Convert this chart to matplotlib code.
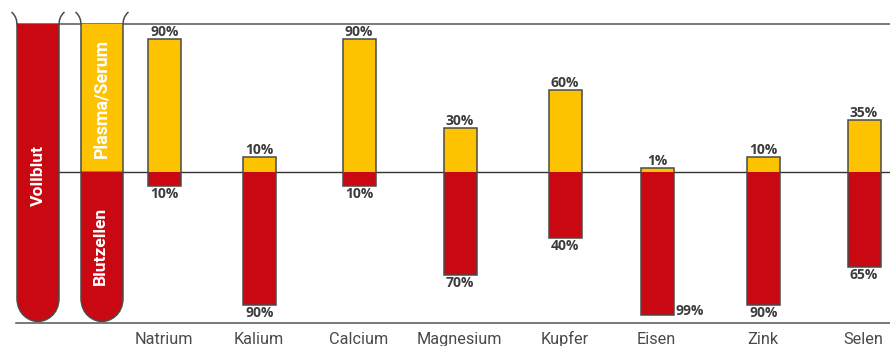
import matplotlib
matplotlib.use("Agg")
import matplotlib.pyplot as plt
from matplotlib.path import Path
from matplotlib.patches import PathPatch

# Verteilung der Elemente zwischen Plasma/Serum und Blutzellen (Prozent)
elements = ["Natrium", "Kalium", "Calcium", "Magnesium", "Kupfer", "Eisen", "Zink", "Selen"]
plasma_labels = [90, 10, 90, 30, 60, 1, 10, 35]
cells_labels = [10, 90, 10, 70, 40, 99, 90, 65]

# bar lengths as drawn in the picture, Kupfer and Eisen differ from their labels
plasma = [89.5, 10, 89.5, 29.5, 55, 2.3, 10, 35]
cells = [9.5, 90, 9.5, 70, 45, 97, 90, 64.5]

plt.rcParams['font.family'] = ['Roboto', 'DejaVu Sans']

YELLOW = "#FDC300"
RED = "#C90812"
EDGE = "#4a4a4a"
LINE = "#555555"
TEXT = "#3c3c3c"

# bar centres in pixels, spacing in the original is not quite even
centers = [164.5, 259.5, 359, 460, 565, 657, 763.5, 864]
bar_w = 33
px_per_pct = 1.48
zero_px = 171.5

fig = plt.figure(figsize=(8.9, 3.46), dpi=100)

# pixel axes for the rules and test tubes
deco = fig.add_axes([0, 0, 1, 1])
deco.set_xlim(0, 890)
deco.set_ylim(346, 0)
deco.axis("off")

# percent axes for the bars
ax = fig.add_axes([0, 0, 1, 1], zorder=2)
ax.set_xlim(0, 890)
ax.set_ylim(-(346 - zero_px) / px_per_pct, zero_px / px_per_pct)
ax.axis("off")

deco.plot([17, 890], [24, 24], color=LINE, lw=1.1, zorder=1)
deco.plot([59, 890], [zero_px, zero_px], color="#333333", lw=1.0, zorder=1)
deco.plot([16, 890], [323, 323], color=LINE, lw=1.1, zorder=1)


def tube_fill(x0, x1, y0, y1, color):
    # y1 is the rounded end of the tube when it is the bottom
    if y1 > 300:
        verts = [(x0, y0), (x0, 298), (x0, 315), (x0 + 13, 321.5), ((x0 + x1) / 2, 321.5),
                 (x1 - 13, 321.5), (x1, 315), (x1, 298), (x1, y0), (x0, y0)]
        codes = [Path.MOVETO, Path.LINETO, Path.CURVE4, Path.CURVE4, Path.CURVE4,
                 Path.CURVE4, Path.CURVE4, Path.CURVE4, Path.LINETO, Path.CLOSEPOLY]
    else:
        verts = [(x0, y0), (x0, y1), (x1, y1), (x1, y0), (x0, y0)]
        codes = [Path.MOVETO, Path.LINETO, Path.LINETO, Path.LINETO, Path.CLOSEPOLY]
    deco.add_patch(PathPatch(Path(verts, codes), facecolor=color, edgecolor="none", zorder=2))


def tube_outline(x0, x1):
    verts = [(x0 - 5.5, 12), (x0 - 1, 16), (x0, 20), (x0, 26), (x0, 298),
             (x0, 315), (x0 + 13, 321.5), ((x0 + x1) / 2, 321.5),
             (x1 - 13, 321.5), (x1, 315), (x1, 298), (x1, 26),
             (x1, 20), (x1 + 1, 16), (x1 + 5.5, 12)]
    codes = [Path.MOVETO, Path.CURVE4, Path.CURVE4, Path.CURVE4, Path.LINETO,
             Path.CURVE4, Path.CURVE4, Path.CURVE4,
             Path.CURVE4, Path.CURVE4, Path.CURVE4, Path.LINETO,
             Path.CURVE4, Path.CURVE4, Path.CURVE4]
    deco.add_patch(PathPatch(Path(verts, codes), facecolor="none", edgecolor=EDGE, lw=1.1, zorder=3))


tube_fill(17, 59, 24, 322, RED)
tube_outline(17, 59)
tube_fill(81, 123, 24, zero_px, YELLOW)
tube_fill(81, 123, zero_px, 322, RED)
tube_outline(81, 123)

deco.text(38, 175, "Vollblut", color="white", fontsize=12.6, fontweight="bold", rotation=90,
          ha="center", va="center", zorder=4)
deco.text(101.5, 98, "Plasma/Serum", color="white", fontsize=12.8, fontweight="bold", rotation=90,
          ha="center", va="center", zorder=4)
deco.text(100.5, 246, "Blutzellen", color="white", fontsize=12.6, fontweight="bold", rotation=90,
          ha="center", va="center", zorder=4)

# fills without edge so the zero line does not show between the colours, outline on top
ax.bar(centers, plasma, width=bar_w, color=YELLOW, linewidth=0, zorder=3)
ax.bar(centers, [-c for c in cells], width=bar_w, color=RED, linewidth=0, zorder=3)
ax.bar(centers, [p + c for p, c in zip(plasma, cells)], bottom=[-c for c in cells], width=bar_w,
       facecolor="none", edgecolor=EDGE, linewidth=1.1, zorder=4)

for i in range(len(elements)):
    ax.annotate("{}%".format(plasma_labels[i]), (centers[i], plasma[i]), xytext=(0, 0),
                textcoords="offset points", ha="center", va="bottom", family="Open Sans",
                fontsize=10, fontweight="bold", color=TEXT)
    if elements[i] == "Eisen":
        # no room below the bar, label sits beside it
        ax.annotate("{}%".format(cells_labels[i]), (centers[i] + bar_w / 2, -cells[i]), xytext=(1.5, -2),
                    textcoords="offset points", ha="left", va="bottom", family="Open Sans",
                    fontsize=10, fontweight="bold", color=TEXT)
    else:
        ax.annotate("{}%".format(cells_labels[i]), (centers[i], -cells[i]), xytext=(0, -1),
                    textcoords="offset points", ha="center", va="top", family="Open Sans",
                    fontsize=10, fontweight="bold", color=TEXT)
    deco.text(centers[i] - 0.5, 344, elements[i], ha="center", va="baseline", fontsize=11.7, color="#4a4a4a")

plt.savefig("out.png", dpi=100)
